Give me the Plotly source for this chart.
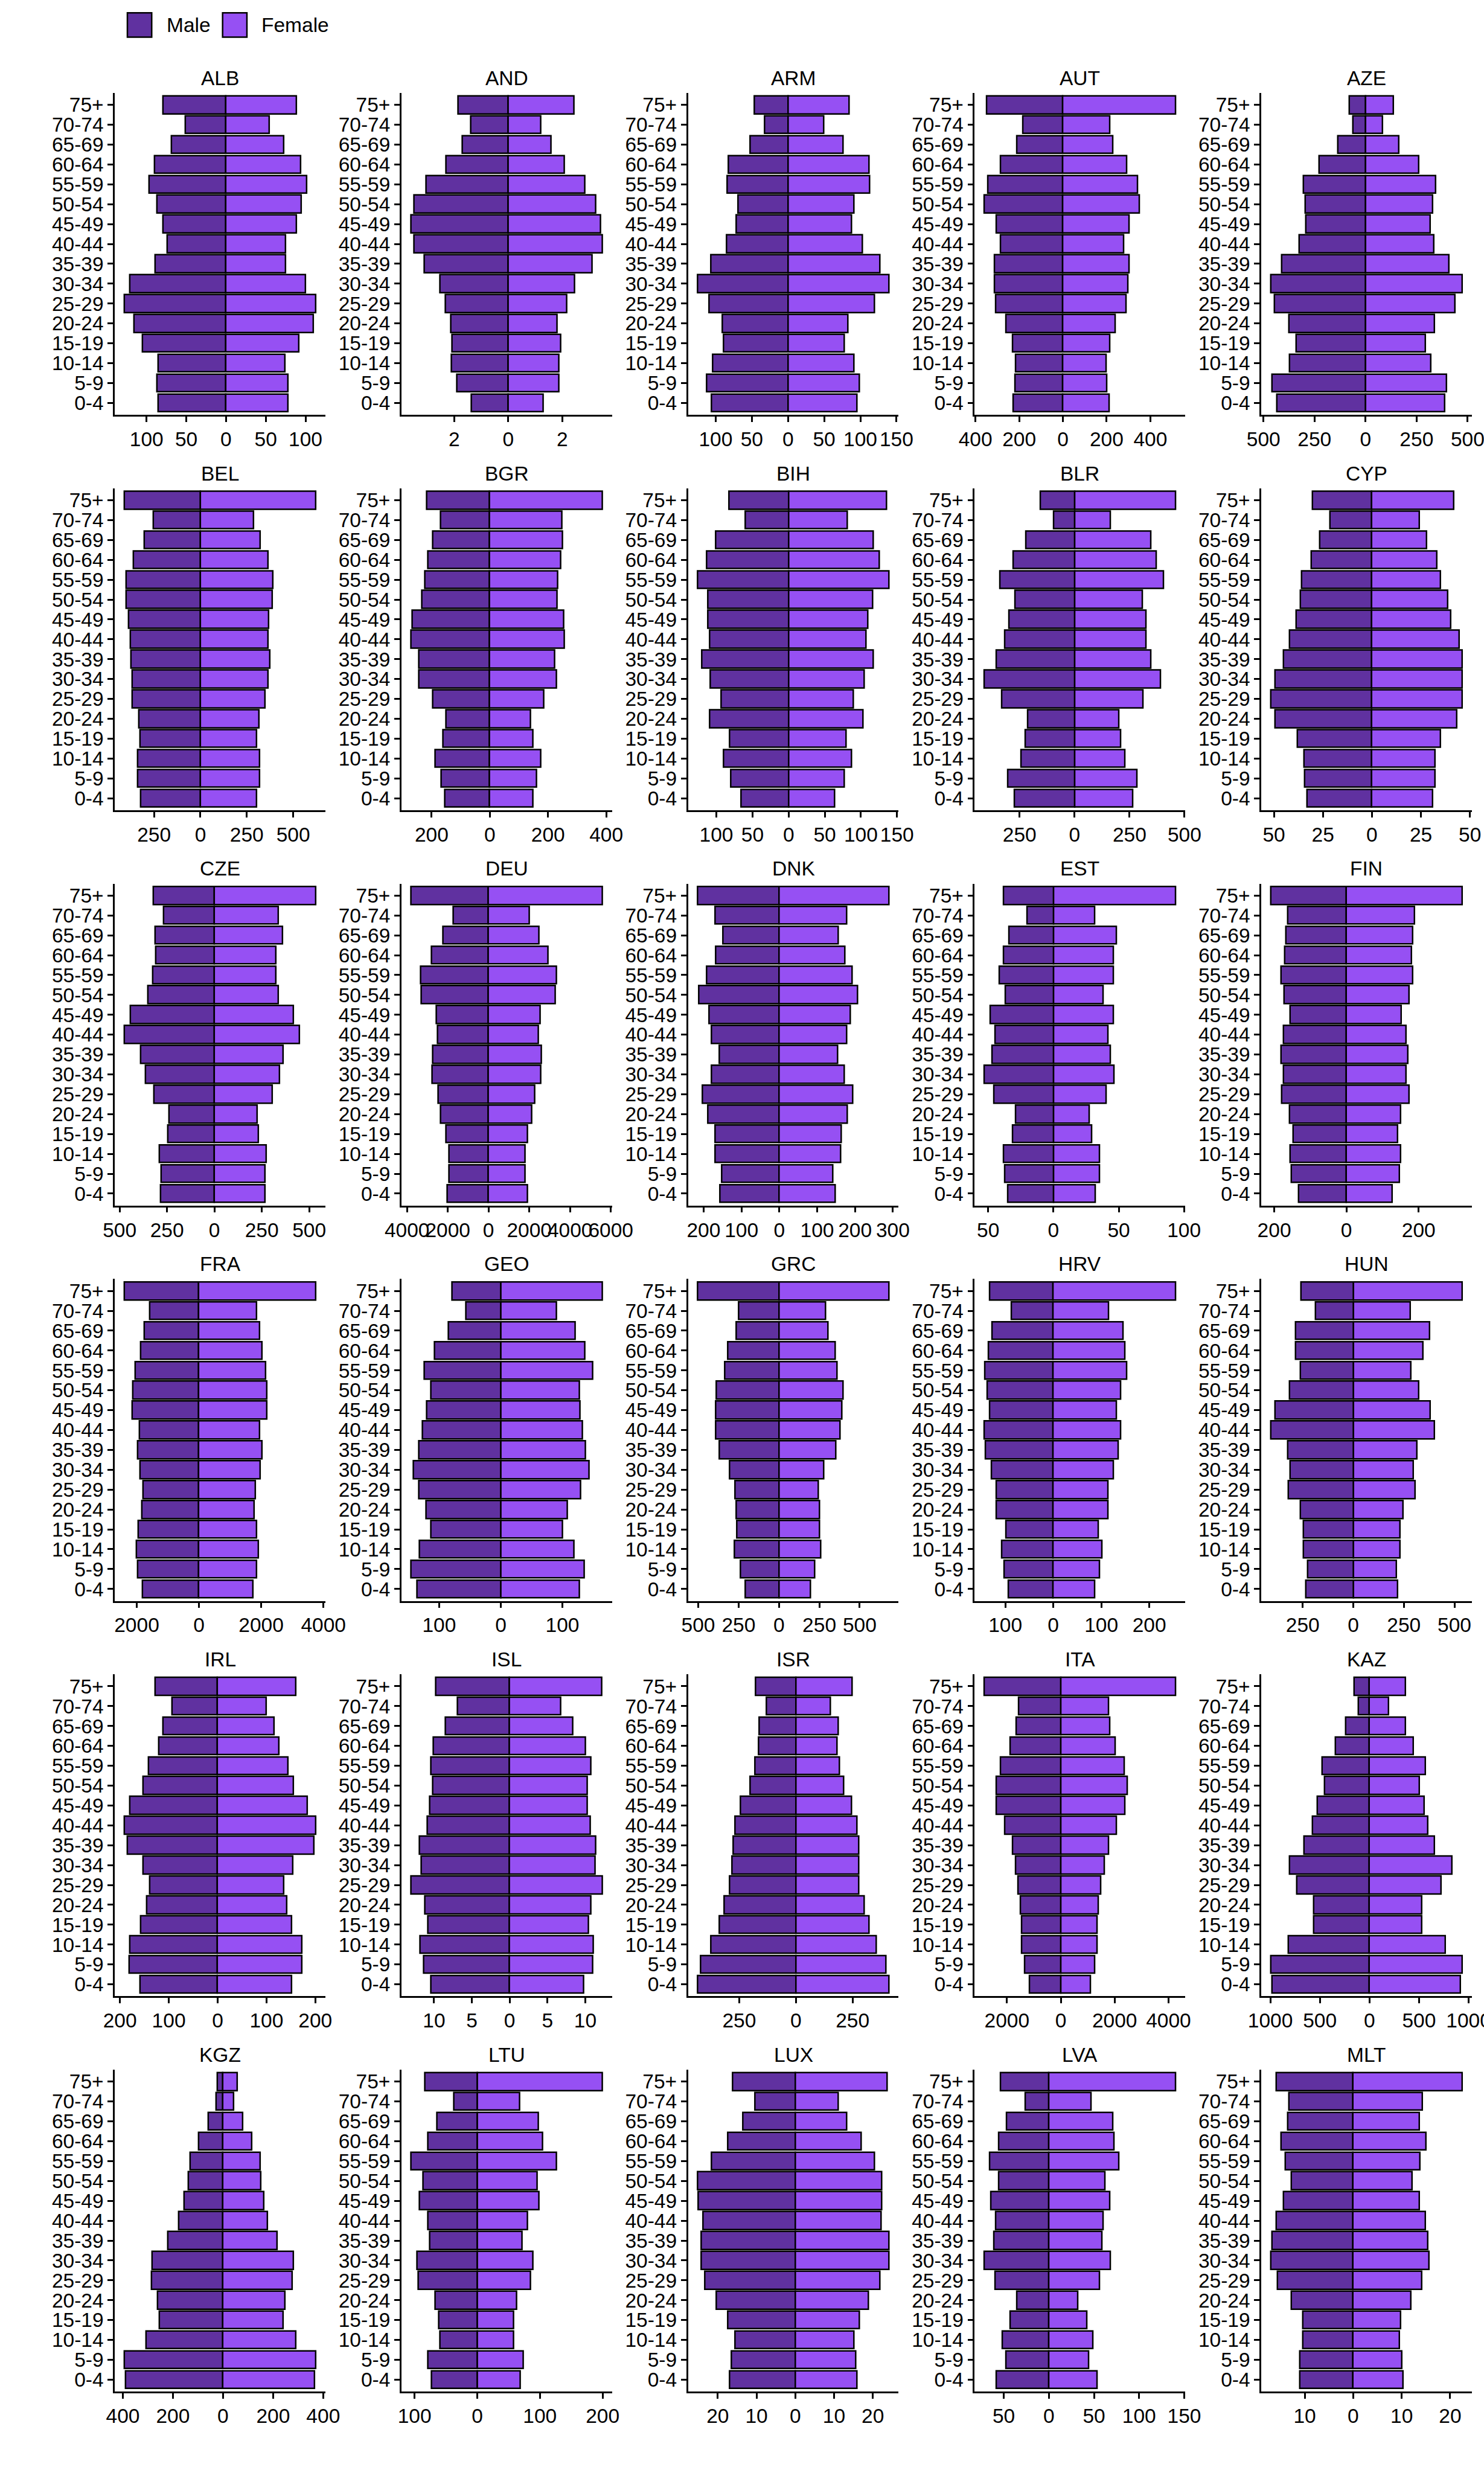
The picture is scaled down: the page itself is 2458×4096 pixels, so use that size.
import plotly.graph_objects as go

# ---------------- data ----------------
ages = ["75+", "70-74", "65-69", "60-64", "55-59", "50-54", "45-49", "40-44",
        "35-39", "30-34", "25-29", "20-24", "15-19", "10-14", "5-9", "0-4"]

countries = ["ALB", "AND", "ARM", "AUT", "AZE",
             "BEL", "BGR", "BIH", "BLR", "CYP",
             "CZE", "DEU", "DNK", "EST", "FIN",
             "FRA", "GEO", "GRC", "HRV", "HUN",
             "IRL", "ISL", "ISR", "ITA", "KAZ",
             "KGZ", "LTU", "LUX", "LVA", "MLT"]

# values listed from 75+ (top) down to 0-4 (bottom)
ALB_male = [79, 51, 69, 90, 97, 87, 79, 74, 89, 121, 128, 116, 105, 85.5, 87, 85.5]
ALB_female = [89, 54.5, 72.5, 94, 101.6, 95, 88.6, 75, 75, 100, 113, 110, 92, 74, 78, 78]
AND_male = [1.85, 1.38, 1.69, 2.29, 3.04, 3.49, 3.6, 3.49, 3.11, 2.53, 2.33, 2.13, 2.07, 2.09, 1.89, 1.36]
AND_female = [2.44, 1.22, 1.58, 2.09, 2.84, 3.24, 3.42, 3.49, 3.11, 2.45, 2.18, 1.82, 1.95, 1.87, 1.87, 1.29]
ARM_male = [46.8, 31.9, 52.2, 82.3, 83.6, 68.7, 71.4, 85, 106.6, 125, 109, 91, 89, 104, 112, 106]
ARM_female = [84.7, 49.5, 76, 112, 113, 91, 88, 103, 127.5, 139.7, 120, 82.7, 78, 91.5, 99, 95.6]
AUT_male = [349, 183, 210, 284, 344, 360, 304, 284, 313, 313, 308, 261, 230, 217, 219, 228]
AUT_female = [516, 214.5, 230, 293, 342, 351, 302, 277, 304, 299, 290, 241, 214.5, 199, 201, 212]
AZE_male = [79, 60, 135, 228, 305, 296, 293, 325, 409, 464, 447, 375, 339, 373, 457, 433]
AZE_female = [137, 84, 163, 262, 344, 329, 317, 334, 409, 474, 437.5, 339, 293, 320, 397, 387]
BEL_male = [410, 254, 302, 360, 399, 399, 386, 376, 373, 368, 368, 333, 325, 339, 339, 323]
BEL_female = [622, 288, 323, 365, 392, 386, 368, 365, 376, 365, 349, 315, 304, 320, 320, 304]
BGR_male = [217, 170, 195, 213, 224, 234, 266, 271, 244, 244, 197, 150, 160, 187, 168, 155]
BGR_female = [387, 247, 250, 244, 234, 232, 254, 257, 224, 229, 185, 141, 148, 176, 160, 148]
BIH_male = [82.3, 60, 101, 113, 126, 111.5, 112, 109, 120, 108, 93, 109, 81.6, 90, 80, 66]
BIH_female = [136, 81, 117, 125.5, 139, 116, 110, 107, 117, 104.5, 90, 103, 80, 87, 77, 64]
BLR_male = [154, 96, 221, 279, 339, 270, 297, 317, 355, 411, 330, 214, 223, 243, 304, 272]
BLR_female = [460, 163, 346, 373, 404, 310, 324, 326, 348, 391, 312.5, 201, 210, 230, 283, 266]
CYP_male = [30.3, 21.3, 26.6, 31, 35.8, 36.6, 38.6, 42.1, 45.1, 49.4, 51.6, 49.4, 38.1, 34.6, 34.3, 33.1]
CYP_female = [41.9, 24.1, 27.8, 33.1, 35.1, 38.6, 40.1, 44.6, 46.1, 46.1, 46.1, 43.4, 35.1, 32.3, 32.3, 31.1]
CZE_male = [323, 266, 312.5, 310, 325, 349, 442, 475, 390, 364, 318, 238, 245, 289, 281.5, 284]
CZE_female = [535, 338, 359, 325, 325, 336, 418, 449, 362, 343.5, 307, 225, 232, 274, 266, 268.6]
DEU_male = [3807, 1735, 2241, 2795, 3325, 3301, 2554, 2506, 2723, 2771, 2482, 2337, 2096, 1928, 1928, 2024]
DEU_female = [5590, 2000, 2482, 2916, 3349, 3277, 2530, 2458, 2602, 2554, 2265, 2120, 1928, 1783, 1807, 1928]
DNK_male = [216, 170, 148, 168.5, 192, 212.5, 185, 179, 158, 179, 203.5, 189, 170, 170, 152, 157]
DNK_female = [290, 178.5, 156.5, 173, 193, 207, 187.6, 178.5, 155, 172, 195, 180, 164, 162, 142, 147.5]
EST_male = [38, 19.9, 33.8, 38, 41.4, 36.8, 48.5, 44.7, 47, 53, 45.5, 29, 31.2, 38, 37.2, 35]
EST_female = [93.6, 31.6, 48.1, 45.9, 45.9, 38, 46.2, 41.7, 43.6, 46.6, 40.2, 27.4, 29.3, 35.3, 35.3, 32.3]
FIN_male = [209.5, 163, 167, 171, 181, 173, 156.5, 174, 181, 174, 179.6, 158, 148, 155, 152, 132]
FIN_female = [321, 188, 184, 180, 184, 173, 152, 166, 171, 166, 173, 150, 141.5, 150, 147, 126.5]
FRA_male = [2399, 1578, 1752, 1878, 2052, 2115, 2147, 1910, 1973, 1894, 1800, 1831, 1957, 2005, 1973, 1815]
FRA_female = [3757, 1863, 1957, 2036, 2147, 2178, 2178, 1957, 2036, 1973, 1815, 1784, 1863, 1910, 1863, 1736]
GEO_male = [78.9, 56.6, 85.3, 107.6, 124.3, 113, 120.3, 126.7, 133, 141.8, 133, 121, 113, 131.5, 145.8, 136]
GEO_female = [165, 90, 121, 137, 149, 128, 129, 133, 138, 143.4, 130, 108.4, 100.4, 118.7, 135.5, 127.5]
GRC_male = [504, 249, 264.5, 316, 337, 386, 392, 392, 370.6, 304, 270.6, 264.5, 261.5, 273.6, 237, 207]
GRC_female = [682, 291, 306, 348.5, 360.6, 397, 391, 379, 354.5, 279, 245.5, 251.5, 251.5, 257.6, 221, 194]
HRV_male = [132, 87, 128, 135, 143, 137, 133, 144, 141, 129, 118.7, 118.7, 99, 107.5, 102, 93]
HRV_female = [255, 115.7, 145, 149.4, 153.5, 141, 132, 140, 136, 125, 113.6, 113.6, 94, 101, 96, 87]
HUN_male = [257, 187, 284, 284, 260, 315.5, 386, 408, 323, 311, 320, 262, 247.6, 245, 226, 235]
HUN_female = [539, 281.6, 378.6, 344.7, 286.4, 325, 381, 400.5, 315.5, 296, 306, 247.6, 230.6, 230.6, 213.6, 218.5]
IRL_male = [128, 93.7, 111.8, 120.8, 141, 153, 180, 191, 185, 153, 139, 145, 157, 180, 181, 159]
IRL_female = [160, 99.7, 115.8, 125.9, 144, 155, 184, 201, 197, 154, 135, 142, 152, 173, 173, 151]
ISL_male = [9.74, 6.88, 8.5, 10.06, 10.39, 10.19, 10.58, 10.9, 11.95, 11.69, 13.05, 11.23, 10.78, 11.88, 11.36, 10.39]
ISL_female = [12.2, 6.75, 8.38, 10.06, 10.71, 10.26, 10.26, 10.65, 11.36, 11.3, 12.27, 10.71, 10.45, 11.1, 10.97, 9.8]
ISR_male = [178, 130, 161, 163, 180, 202, 243, 267, 275.5, 282, 290.7, 316.7, 338, 375, 420.6, 433.5]
ISR_female = [249, 153.7, 186, 182, 192.6, 210, 246.8, 270.6, 277, 277, 277, 301, 322.5, 355, 398, 411]
ITA_male = [2844, 1568, 1659, 1878, 2242, 2388, 2388, 2078, 1787, 1677, 1586, 1495, 1458.5, 1440, 1349, 1167]
ITA_female = [4266, 1768, 1823, 2024, 2352, 2461, 2388, 2060, 1768, 1623, 1495, 1386, 1349, 1349, 1258, 1094]
KAZ_male = [153, 114, 238, 342, 475, 455, 525, 574, 658, 807, 733, 559, 564, 817, 995, 980]
KAZ_female = [366, 193, 366, 445.5, 564, 505, 554.5, 589, 658, 832, 723, 530, 530, 767, 936, 916]
KGZ_male = [23.5, 27.5, 59, 96, 131, 139, 155, 176.5, 219.6, 282, 286, 261, 253, 306, 394, 388]
KGZ_female = [57, 43, 78.4, 115.7, 149, 151, 162.7, 178.4, 215.7, 282, 276.5, 247, 241, 290, 370.6, 366.7]
LTU_male = [83, 36.8, 64.2, 79, 105.7, 86, 92.4, 78.3, 76, 95.5, 94, 66.6, 61, 59.5, 78.3, 72.8]
LTU_female = [199.7, 68, 97.9, 104, 126, 95.5, 98.7, 79.9, 71.3, 88.5, 85.4, 63.4, 58, 58, 73.6, 68.9]
LUX_male = [16.2, 10.4, 13.5, 17.4, 21.6, 25.2, 25, 23.7, 24.2, 24.2, 23.3, 20.3, 17.4, 15.6, 16.5, 16.9]
LUX_female = [23.7, 11.1, 13.3, 17, 20.4, 22.3, 22.4, 22.2, 24.2, 24.2, 21.8, 18.9, 16.5, 15.2, 15.7, 15.9]
LVA_male = [53.8, 26, 46.7, 55.4, 65.8, 55.4, 64.1, 58.7, 60.9, 71.7, 59.8, 35.3, 42.9, 51.6, 47.3, 58.2]
LVA_female = [140.5, 46.7, 71.2, 72.3, 77.7, 62, 67.4, 60.3, 58.7, 68.5, 56.5, 32, 41.8, 48.9, 44, 53.3]
MLT_male = [15.8, 13.3, 13.5, 14.9, 14, 12.7, 14.4, 15.9, 16.7, 17, 15.6, 12.8, 10.4, 10.4, 11, 11]
MLT_female = [22.5, 14.3, 13.7, 15, 13.8, 12.1, 13.6, 14.9, 15.4, 15.6, 14.2, 11.9, 9.8, 9.6, 10.1, 10.3]

# x-axis tick values per panel (labels shown as absolute values)
ALB_ticks = [-100, -50, 0, 50, 100]
AND_ticks = [-2, 0, 2]
ARM_ticks = [-100, -50, 0, 50, 100, 150]
AUT_ticks = [-400, -200, 0, 200, 400]
AZE_ticks = [-500, -250, 0, 250, 500]
BEL_ticks = [-250, 0, 250, 500]
BGR_ticks = [-200, 0, 200, 400]
BIH_ticks = [-100, -50, 0, 50, 100, 150]
BLR_ticks = [-250, 0, 250, 500]
CYP_ticks = [-50, -25, 0, 25, 50]
CZE_ticks = [-500, -250, 0, 250, 500]
DEU_ticks = [-4000, -2000, 0, 2000, 4000, 6000]
DNK_ticks = [-200, -100, 0, 100, 200, 300]
EST_ticks = [-50, 0, 50, 100]
FIN_ticks = [-200, 0, 200]
FRA_ticks = [-2000, 0, 2000, 4000]
GEO_ticks = [-100, 0, 100]
GRC_ticks = [-500, -250, 0, 250, 500]
HRV_ticks = [-100, 0, 100, 200]
HUN_ticks = [-250, 0, 250, 500]
IRL_ticks = [-200, -100, 0, 100, 200]
ISL_ticks = [-10, -5, 0, 5, 10]
ISR_ticks = [-250, 0, 250]
ITA_ticks = [-2000, 0, 2000, 4000]
KAZ_ticks = [-1000, -500, 0, 500, 1000]
KGZ_ticks = [-400, -200, 0, 200, 400]
LTU_ticks = [-100, 0, 100, 200]
LUX_ticks = [-20, -10, 0, 10, 20]
LVA_ticks = [-50, 0, 50, 100, 150]
MLT_ticks = [-10, 0, 10, 20]

g = globals()
male = {c: g[c + "_male"] for c in countries}
female = {c: g[c + "_female"] for c in countries}
ticks = {c: g[c + "_ticks"] for c in countries}

# ---------------- style / layout ----------------
MALE_COLOR = "#6031A0"
FEMALE_COLOR = "#9650F3"
FONT = "Liberation Sans, Arial, sans-serif"
FS = 33.5

REF_W, REF_H = 3600.0, 6000.0
X_LEFT, X_STEP, X_W = 278.4, 695.3, 511.0
Y_TOP, Y_STEP, Y_H = 225.5, 959.2, 781.0

fig = go.Figure()
annotations = []
layout = {}

for i, c in enumerate(countries):
    k = i + 1
    r, col = divmod(i, 5)
    xa = "x" if k == 1 else f"x{k}"
    ya = "y" if k == 1 else f"y{k}"
    m = male[c]
    f = female[c]
    fig.add_trace(go.Bar(
        y=ages, x=[-v for v in m], orientation="h", width=0.9,
        marker=dict(color=MALE_COLOR, line=dict(color="black", width=2.5)),
        xaxis=xa, yaxis=ya, showlegend=False, name="Male"))
    fig.add_trace(go.Bar(
        y=ages, x=f, orientation="h", width=0.9,
        marker=dict(color=FEMALE_COLOR, line=dict(color="black", width=2.5)),
        xaxis=xa, yaxis=ya, showlegend=False, name="Female"))

    lo = -max(m)
    hi = max(f)
    span = hi - lo
    rng = [lo - 0.05 * span, hi + 0.05 * span]

    xl = X_LEFT + col * X_STEP
    yt = Y_TOP + r * Y_STEP
    xdom = [xl / REF_W, (xl + X_W) / REF_W]
    ydom = [1 - (yt + Y_H) / REF_H, 1 - yt / REF_H]

    tv = ticks[c]
    layout["xaxis" if k == 1 else f"xaxis{k}"] = dict(
        domain=xdom, anchor=ya, range=rng, automargin=False,
        tickmode="array", tickvals=tv, ticktext=[str(abs(v)) for v in tv],
        tickangle=0, ticklabeloverflow="allow",
        showline=True, linecolor="black", linewidth=2.5,
        ticks="outside", ticklen=9, tickwidth=2.5, tickcolor="black",
        showgrid=False, zeroline=False,
        tickfont=dict(family=FONT, size=FS, color="black"),
        fixedrange=True)
    layout["yaxis" if k == 1 else f"yaxis{k}"] = dict(
        domain=ydom, anchor=xa, type="category", automargin=False,
        categoryorder="array", categoryarray=ages,
        tickmode="array", tickvals=ages, ticktext=ages,
        ticklabeloverflow="allow",
        range=[15.6, -0.6],
        showline=True, linecolor="black", linewidth=2.5,
        ticks="outside", ticklen=9, tickwidth=2.5, tickcolor="black",
        showgrid=False, zeroline=False,
        tickfont=dict(family=FONT, size=FS, color="black"),
        fixedrange=True)

    annotations.append(dict(
        text=c, xref="paper", yref="paper",
        x=(xl + X_W / 2) / REF_W, y=1 - (yt - 36) / REF_H,
        xanchor="center", yanchor="middle", showarrow=False,
        font=dict(family=FONT, size=FS, color="black")))

# legend (manual keys)
legend_items = [("Male", MALE_COLOR, 309, 401), ("Female", FEMALE_COLOR, 540, 631)]
shapes = []
for label, colr, kx, tx in legend_items:
    shapes.append(dict(
        type="rect", xref="paper", yref="paper",
        x0=kx / REF_W, x1=(kx + 59) / REF_W,
        y0=1 - 90 / REF_H, y1=1 - 31 / REF_H,
        fillcolor=colr, line=dict(color="black", width=2.5)))
    annotations.append(dict(
        text=label, xref="paper", yref="paper",
        x=tx / REF_W, y=1 - 61 / REF_H,
        xanchor="left", yanchor="middle", showarrow=False,
        font=dict(family=FONT, size=FS, color="black")))

fig.update_layout(
    template="none",
    width=2458, height=4096,
    margin=dict(l=0, r=0, t=0, b=0, pad=0),
    paper_bgcolor="white", plot_bgcolor="white",
    barmode="overlay", bargap=0,
    showlegend=False,
    annotations=annotations, shapes=shapes,
    font=dict(family=FONT, size=FS, color="black"),
    **layout)

fig.write_html("out.html", config={"displayModeBar": False})
